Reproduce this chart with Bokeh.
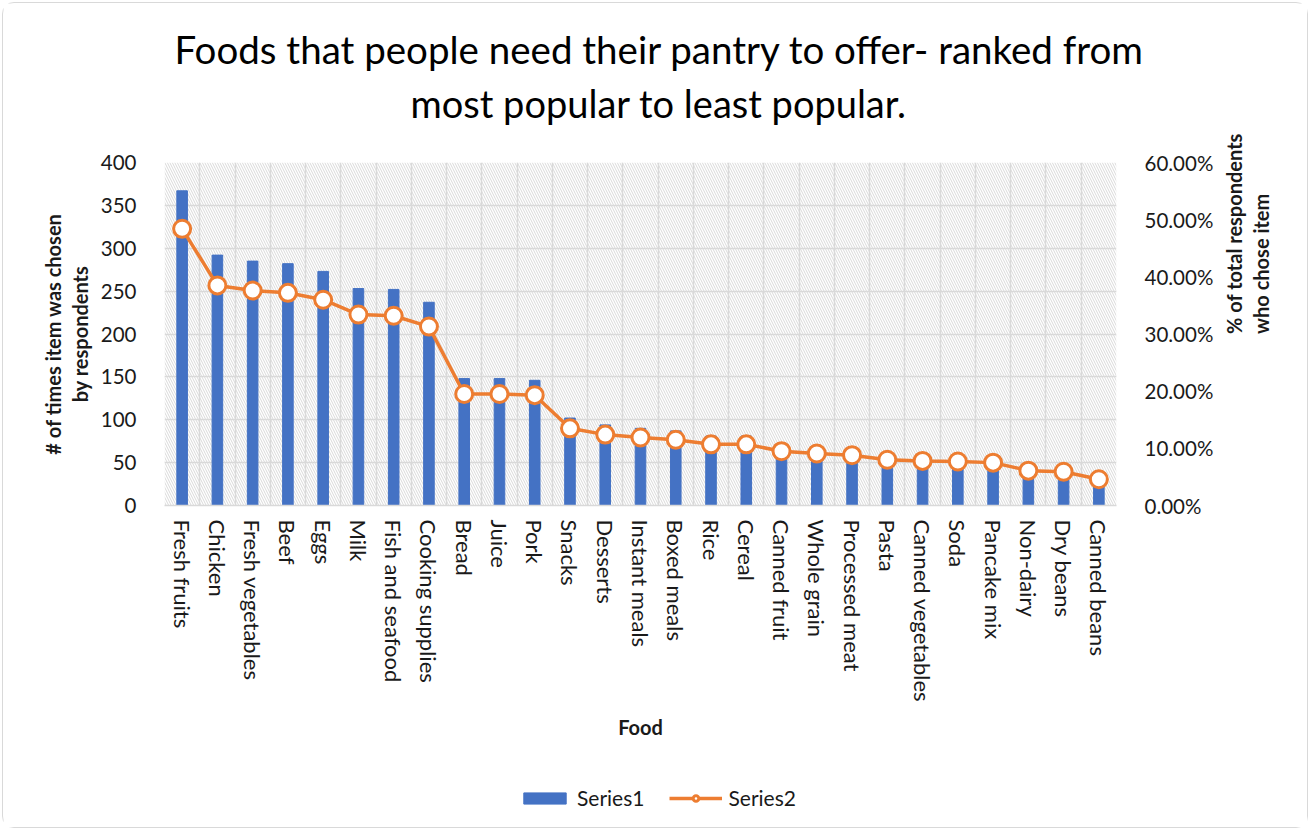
import math
from bokeh.plotting import figure
from bokeh.layouts import column
from bokeh.models import (Range1d, LinearAxis, NumeralTickFormatter, FixedTicker,
                          BoxAnnotation, Legend, LegendItem, Title, ColumnDataSource, FactorRange)
from bokeh.embed import file_html
from bokeh.resources import INLINE

foods = ["Fresh fruits", "Chicken", "Fresh vegetables", "Beef", "Eggs", "Milk", "Fish and seafood",
         "Cooking supplies", "Bread", "Juice", "Pork", "Snacks", "Desserts", "Instant meals",
         "Boxed meals", "Rice", "Cereal", "Canned fruit", "Whole grain", "Processed meat", "Pasta",
         "Canned vegetables", "Soda", "Pancake mix", "Non-dairy", "Dry beans", "Canned beans"]
series1 = [367, 292, 285, 282, 273, 253, 252, 237, 148, 148, 146, 102, 94, 90, 87, 81, 81,
           72, 69, 67, 61, 59, 58, 57, 46, 45, 35]
series2 = [0.484, 0.385, 0.376, 0.372, 0.360, 0.334, 0.332, 0.313, 0.195, 0.195, 0.193, 0.135,
           0.124, 0.119, 0.115, 0.107, 0.107, 0.095, 0.091, 0.088, 0.080, 0.078, 0.077, 0.075,
           0.061, 0.059, 0.046]
left_ticks = [0, 50, 100, 150, 200, 250, 300, 350, 400]
right_ticks = [0.0, 0.1, 0.2, 0.3, 0.4, 0.5, 0.6]
title_line1 = "Foods that people need their pantry to offer- ranked from"
title_line2 = "most popular to least popular."

FONT = "Lato"
TXT = "#1a1a1a"
BLUE = "#4472C4"
ORANGE = "#ED7D31"
GRID = "#d9d9d9"
W = 1304

src = ColumnDataSource(dict(food=foods, s1=series1, s2=series2))

p = figure(width=W, height=770, x_range=FactorRange(*foods), y_range=Range1d(0, 400),
           output_backend="svg", toolbar_location=None, title=None,
           min_border_left=161, min_border_right=191, min_border_top=159, min_border_bottom=268)
p.extra_y_ranges = {"pct": Range1d(0, 0.6)}
p.outline_line_color = None
p.background_fill_color = "white"
p.border_fill_color = "white"

# hatched plot area background
hatch = BoxAnnotation(fill_alpha=0, line_color=None, hatch_pattern="\\", hatch_color="#d9d9d9",
                      hatch_scale=5, hatch_weight=1, level="image")
p.add_layout(hatch)

bars = p.vbar(x="food", top="s1", width=0.3, source=src, color=BLUE)
line = p.line(x="food", y="s2", source=src, color=ORANGE, line_width=3.5, y_range_name="pct")
dots = p.scatter(x="food", y="s2", source=src, size=17, fill_color="white", line_color=ORANGE,
                 line_width=3, y_range_name="pct")

# grids
p.xgrid.ticker = FixedTicker(ticks=list(range(len(foods) + 1)))
p.xgrid.grid_line_color = GRID
p.xgrid.grid_line_width = 1.5
p.ygrid.grid_line_color = GRID
p.ygrid.grid_line_width = 1.5


def style_y(ax, standoff_lbl, standoff_title):
    ax.axis_line_color = None
    ax.major_tick_line_color = None
    ax.minor_tick_line_color = None
    ax.major_label_text_font = FONT
    ax.major_label_text_font_size = "20.5px"
    ax.major_label_text_color = TXT
    ax.major_label_standoff = standoff_lbl
    ax.axis_label_text_font = FONT
    ax.axis_label_text_font_style = "bold"
    ax.axis_label_text_font_size = "20px"
    ax.axis_label_text_color = TXT
    ax.axis_label_text_line_height = 1.1
    ax.axis_label_standoff = standoff_title


# left axis
ya = p.yaxis[0]
ya.ticker = FixedTicker(ticks=left_ticks)
ya.axis_label = "# of times item was chosen\nby respondents"
style_y(ya, 22, 6)

# right axis
ra = LinearAxis(y_range_name="pct", ticker=FixedTicker(ticks=right_ticks),
                formatter=NumeralTickFormatter(format="0.00%"))
ra.axis_label = "% of total respondents\nwho chose item"
style_y(ra, 22, 31)
ra.axis_label_orientation = math.pi / 2
p.add_layout(ra, "right")

# bottom axis
xa = p.xaxis[0]
xa.axis_line_color = GRID
xa.axis_line_width = 1.5
xa.major_tick_line_color = None
xa.minor_tick_line_color = None
xa.major_label_orientation = "vertical"
xa.major_label_text_font = FONT
xa.major_label_text_font_size = "22px"
xa.major_label_text_color = TXT
xa.major_label_standoff = 8
xa.axis_label = "Food"
xa.axis_label_text_font = FONT
xa.axis_label_text_font_style = "bold"
xa.axis_label_text_font_size = "20px"
xa.axis_label_text_color = TXT
xa.axis_label_standoff = 10

# titles (spacer innermost, then line 2, then line 1)
spacer = Title(text=" ", text_font=FONT, text_font_size="20px", standoff=10)
t2 = Title(text=title_line2, align="left", offset=246, text_font=FONT, text_font_size="38px",
           text_font_style="normal", text_color="black", standoff=2)
t1 = Title(text=title_line1, align="left", offset=10, text_font=FONT, text_font_size="38.5px",
           text_font_style="normal", text_color="black", standoff=10)
p.add_layout(spacer, "above")
p.add_layout(t2, "above")
p.add_layout(t1, "above")

# legend strip: same data with hidden renderers, so only the legend shows
lg = figure(width=W, height=54, output_backend="svg", toolbar_location=None, title=None,
            x_range=FactorRange(*foods), y_range=Range1d(0, 400), min_border=0)
lg.outline_line_color = None
lg.axis.visible = False
lg.grid.visible = False
lb = lg.vbar(x="food", top="s1", width=0.3, source=src, color=BLUE, visible=False)
ll = lg.line(x="food", y="s2", source=src, color=ORANGE, line_width=3.5, visible=False)
ls = lg.scatter(x="food", y="s2", source=src, size=13, fill_color="white", line_color=ORANGE,
                line_width=3, visible=False)
legend = Legend(items=[LegendItem(label="Series1", renderers=[lb]),
                       LegendItem(label="Series2", renderers=[ll, ls])],
                orientation="horizontal", location=(354, 17),
                label_text_font=FONT, label_text_font_size="21px", label_text_color=TXT,
                label_standoff=6, glyph_width=53, glyph_height=14, spacing=25,
                border_line_color=None, background_fill_alpha=0, margin=0, padding=5,
                inactive_fill_alpha=0)
lg.add_layout(legend)

layout = column(p, lg, spacing=0)
layout.margin = (2, 2, 2, 2)
layout.styles = {"border": "1px solid #d9d9d9", "border-radius": "12px", "background": "white"}

open("out.html", "w").write(file_html(layout, INLINE))
